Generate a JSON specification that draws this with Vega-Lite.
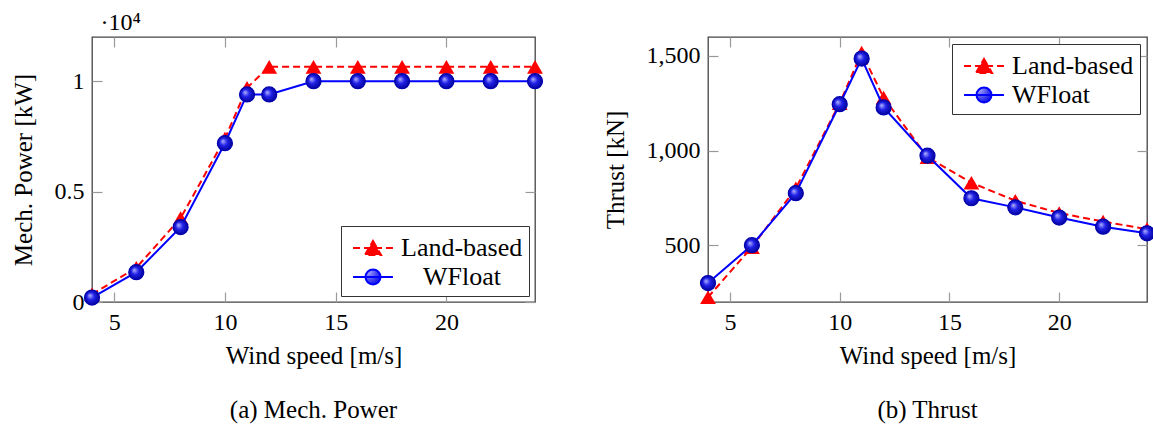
{
  "$schema": "https://vega.github.io/schema/vega-lite/v6.json",
  "padding": {"left": 10, "top": 10, "right": 0, "bottom": 0},
  "background": "white",
  "config": {
    "font": "Liberation Serif, Times New Roman, DejaVu Serif, serif",
    "view": {"stroke": "#444444", "strokeWidth": 1.3},
    "axis": {
      "grid": false, "domain": false, "tickColor": "#9a9a9a", "tickWidth": 1.2, "tickSize": -10,
      "labelFont": "Liberation Serif, Times New Roman, DejaVu Serif, serif", "labelFontSize": 24, "labelColor": "black", "labelPadding": 18,
      "titleFont": "Liberation Serif, Times New Roman, DejaVu Serif, serif", "titleFontSize": 25, "titleFontWeight": "normal", "titleColor": "black"
    },
    "legend": {
      "labelFont": "Liberation Serif, Times New Roman, DejaVu Serif, serif", "labelFontSize": 26, "labelColor": "black",
      "strokeColor": "#333333", "fillColor": "white", "padding": 6, "rowPadding": 0, "offset": 6,
      "symbolSize": 900, "labelOffset": 12, "symbolOffset": 10
    },
    "title": {"font": "Liberation Serif, Times New Roman, DejaVu Serif, serif", "fontSize": 25, "fontWeight": "normal", "color": "black"}
  },
  "datasets": {
    "power": [
      {"speed": 4, "series": "Land-based", "value": 350},
      {"speed": 6, "series": "Land-based", "value": 1550},
      {"speed": 8, "series": "Land-based", "value": 3800},
      {"speed": 10, "series": "Land-based", "value": 7400},
      {"speed": 11, "series": "Land-based", "value": 9700},
      {"speed": 12, "series": "Land-based", "value": 10650},
      {"speed": 14, "series": "Land-based", "value": 10650},
      {"speed": 16, "series": "Land-based", "value": 10650},
      {"speed": 18, "series": "Land-based", "value": 10650},
      {"speed": 20, "series": "Land-based", "value": 10650},
      {"speed": 22, "series": "Land-based", "value": 10650},
      {"speed": 24, "series": "Land-based", "value": 10650},
      {"speed": 4, "series": "WFloat", "value": 200},
      {"speed": 6, "series": "WFloat", "value": 1350},
      {"speed": 8, "series": "WFloat", "value": 3390},
      {"speed": 10, "series": "WFloat", "value": 7190},
      {"speed": 11, "series": "WFloat", "value": 9400},
      {"speed": 12, "series": "WFloat", "value": 9400},
      {"speed": 14, "series": "WFloat", "value": 10000},
      {"speed": 16, "series": "WFloat", "value": 10000},
      {"speed": 18, "series": "WFloat", "value": 10000},
      {"speed": 20, "series": "WFloat", "value": 10000},
      {"speed": 22, "series": "WFloat", "value": 10000},
      {"speed": 24, "series": "WFloat", "value": 10000}
    ],
    "thrust": [
      {"speed": 4, "series": "Land-based", "value": 225},
      {"speed": 6, "series": "Land-based", "value": 490},
      {"speed": 8, "series": "Land-based", "value": 800},
      {"speed": 10, "series": "Land-based", "value": 1250},
      {"speed": 11, "series": "Land-based", "value": 1517},
      {"speed": 12, "series": "Land-based", "value": 1280},
      {"speed": 14, "series": "Land-based", "value": 965},
      {"speed": 16, "series": "Land-based", "value": 830},
      {"speed": 18, "series": "Land-based", "value": 735},
      {"speed": 20, "series": "Land-based", "value": 670},
      {"speed": 22, "series": "Land-based", "value": 625},
      {"speed": 24, "series": "Land-based", "value": 585},
      {"speed": 4, "series": "WFloat", "value": 300},
      {"speed": 6, "series": "WFloat", "value": 500},
      {"speed": 8, "series": "WFloat", "value": 775},
      {"speed": 10, "series": "WFloat", "value": 1245},
      {"speed": 11, "series": "WFloat", "value": 1486},
      {"speed": 12, "series": "WFloat", "value": 1228},
      {"speed": 14, "series": "WFloat", "value": 973},
      {"speed": 16, "series": "WFloat", "value": 748},
      {"speed": 18, "series": "WFloat", "value": 700},
      {"speed": 20, "series": "WFloat", "value": 646},
      {"speed": 22, "series": "WFloat", "value": 598},
      {"speed": 24, "series": "WFloat", "value": 563}
    ],
    "multiplier": [{"label": "·10⁴", "speed": 5.3, "value": 12620}]
  },
  "bounds": "flush",
  "spacing": 173,
  "hconcat": [
    {
      "width": 443, "height": 265,
      "title": {"text": "(a) Mech. Power", "orient": "bottom", "offset": 30},
      "data": {"name": "power"},
      "resolve": {"axis": {"x": "independent", "y": "independent"}},
      "layer": [
        {
          "transform": [{"filter": "datum.series === 'Land-based'"}],
          "mark": {"type": "line", "strokeWidth": 2, "strokeDash": [7, 4], "color": "#ff0000"},
          "encoding": {
            "x": {"field": "speed", "type": "quantitative", "scale": {"domain": [4, 24], "nice": false, "zero": false},
                  "axis": {"orient": "bottom", "values": [5, 10, 15, 20], "title": "Wind speed [m/s]", "titlePadding": 9}},
            "y": {"field": "value", "type": "quantitative", "scale": {"domain": [0, 12000], "nice": false},
                  "axis": {"orient": "left", "values": [0, 5000, 10000], "labelExpr": "'' + datum.value/10000", "title": "Mech. Power [kW]", "titlePadding": 18}}
          }
        },
        {
          "transform": [{"filter": "datum.series === 'Land-based'"}],
          "mark": {"type": "point", "shape": "triangle-up", "filled": true, "size": 250, "color": "#ff0000", "opacity": 1},
          "encoding": {
            "x": {"field": "speed", "type": "quantitative", "axis": {"orient": "top", "values": [5, 10, 15, 20], "labels": false, "title": null}},
            "y": {"field": "value", "type": "quantitative", "axis": {"orient": "right", "values": [0, 5000, 10000], "labels": false, "title": null}}
          }
        },
        {
          "transform": [{"filter": "datum.series === 'WFloat'"}],
          "mark": {"type": "line", "strokeWidth": 2, "color": "#0000ff"},
          "encoding": {
            "x": {"field": "speed", "type": "quantitative", "axis": null},
            "y": {"field": "value", "type": "quantitative", "axis": null},
            "color": {"field": "series", "type": "nominal", "scale": {"domain": ["Land-based", "WFloat"], "range": ["#ff0000", "#0000ff"]},
              "legend": {"orient": "bottom-right", "title": null,
                "encode": {
                  "labels": {"update": {"dx": {"signal": "datum.value === 'WFloat' ? 22 : 0"}}},
                  "symbols": {"update": {
                  "shape": {"signal": "datum.value === 'WFloat' ? 'M-1.33,0H1.33M-0.5,0A0.5,0.5 0 1,0 0.5,0A0.5,0.5 0 1,0 -0.5,0Z' : 'M-1.33,0H1.33M0,-0.47L0.54,0.47L-0.54,0.47Z'"},
                  "fill": {"signal": "datum.value === 'WFloat' ? {gradient: 'radial', x1: 0.35, y1: 0.35, r1: 0, x2: 0.5, y2: 0.5, r2: 0.55, stops: [{offset: 0, color: '#b8b8ff'}, {offset: 0.45, color: '#2020e8'}, {offset: 1, color: '#000090'}]} : '#ff0000'"},
                  "stroke": {"signal": "datum.value === 'WFloat' ? '#0000ff' : '#ff0000'"},
                  "strokeDash": {"signal": "datum.value === 'WFloat' ? [] : [7, 4]"},
                  "strokeWidth": {"value": 2},
                  "opacity": {"value": 1}
                }}}}}
          }
        },
        {
          "transform": [{"filter": "datum.series === 'WFloat'"}],
          "mark": {"type": "point", "shape": "circle", "size": 225, "opacity": 1, "strokeWidth": 1.2, "stroke": "#0000b0",
            "fill": {"gradient": "radial", "x1": 0.35, "y1": 0.35, "r1": 0, "x2": 0.5, "y2": 0.5, "r2": 0.55,
              "stops": [{"offset": 0, "color": "#b8b8ff"}, {"offset": 0.45, "color": "#2020e8"}, {"offset": 1, "color": "#000090"}]}},
          "encoding": {
            "x": {"field": "speed", "type": "quantitative", "axis": null},
            "y": {"field": "value", "type": "quantitative", "axis": null}
          }
        },
        {
          "data": {"name": "multiplier"},
          "mark": {"type": "text", "font": "Liberation Serif, Times New Roman, serif", "fontWeight": "normal", "fontSize": 24, "align": "center", "baseline": "middle", "color": "black"},
          "encoding": {
            "x": {"field": "speed", "type": "quantitative", "axis": null},
            "y": {"field": "value", "type": "quantitative", "axis": null},
            "text": {"field": "label"}
          }
        }
      ]
    },
    {
      "width": 439, "height": 265,
      "title": {"text": "(b) Thrust", "orient": "bottom", "offset": 30},
      "data": {"name": "thrust"},
      "resolve": {"axis": {"x": "independent", "y": "independent"}},
      "layer": [
        {
          "transform": [{"filter": "datum.series === 'Land-based'"}],
          "mark": {"type": "line", "strokeWidth": 2, "strokeDash": [7, 4], "color": "#ff0000"},
          "encoding": {
            "x": {"field": "speed", "type": "quantitative", "scale": {"domain": [4, 24], "nice": false, "zero": false},
                  "axis": {"orient": "bottom", "values": [5, 10, 15, 20], "title": "Wind speed [m/s]", "titlePadding": 9}},
            "y": {"field": "value", "type": "quantitative", "scale": {"domain": [200, 1600], "nice": false, "zero": false},
                  "axis": {"orient": "left", "values": [500, 1000, 1500], "format": ",.0f", "title": "Thrust [kN]", "titlePadding": 18}}
          }
        },
        {
          "transform": [{"filter": "datum.series === 'Land-based'"}],
          "mark": {"type": "point", "shape": "triangle-up", "filled": true, "size": 250, "color": "#ff0000", "opacity": 1},
          "encoding": {
            "x": {"field": "speed", "type": "quantitative", "axis": {"orient": "top", "values": [5, 10, 15, 20], "labels": false, "title": null}},
            "y": {"field": "value", "type": "quantitative", "axis": {"orient": "right", "values": [500, 1000, 1500], "labels": false, "title": null}}
          }
        },
        {
          "transform": [{"filter": "datum.series === 'WFloat'"}],
          "mark": {"type": "line", "strokeWidth": 2, "color": "#0000ff"},
          "encoding": {
            "x": {"field": "speed", "type": "quantitative", "axis": null},
            "y": {"field": "value", "type": "quantitative", "axis": null},
            "color": {"field": "series", "type": "nominal", "scale": {"domain": ["Land-based", "WFloat"], "range": ["#ff0000", "#0000ff"]},
              "legend": {"orient": "top-right", "title": null, "offset": 7,
                "encode": {"symbols": {"update": {
                  "shape": {"signal": "datum.value === 'WFloat' ? 'M-1.33,0H1.33M-0.5,0A0.5,0.5 0 1,0 0.5,0A0.5,0.5 0 1,0 -0.5,0Z' : 'M-1.33,0H1.33M0,-0.47L0.54,0.47L-0.54,0.47Z'"},
                  "fill": {"signal": "datum.value === 'WFloat' ? {gradient: 'radial', x1: 0.35, y1: 0.35, r1: 0, x2: 0.5, y2: 0.5, r2: 0.55, stops: [{offset: 0, color: '#b8b8ff'}, {offset: 0.45, color: '#2020e8'}, {offset: 1, color: '#000090'}]} : '#ff0000'"},
                  "stroke": {"signal": "datum.value === 'WFloat' ? '#0000ff' : '#ff0000'"},
                  "strokeDash": {"signal": "datum.value === 'WFloat' ? [] : [7, 4]"},
                  "strokeWidth": {"value": 2},
                  "opacity": {"value": 1}
                }}}}}
          }
        },
        {
          "transform": [{"filter": "datum.series === 'WFloat'"}],
          "mark": {"type": "point", "shape": "circle", "size": 225, "opacity": 1, "strokeWidth": 1.2, "stroke": "#0000b0",
            "fill": {"gradient": "radial", "x1": 0.35, "y1": 0.35, "r1": 0, "x2": 0.5, "y2": 0.5, "r2": 0.55,
              "stops": [{"offset": 0, "color": "#b8b8ff"}, {"offset": 0.45, "color": "#2020e8"}, {"offset": 1, "color": "#000090"}]}},
          "encoding": {
            "x": {"field": "speed", "type": "quantitative", "axis": null},
            "y": {"field": "value", "type": "quantitative", "axis": null}
          }
        }
      ]
    }
  ]
}
